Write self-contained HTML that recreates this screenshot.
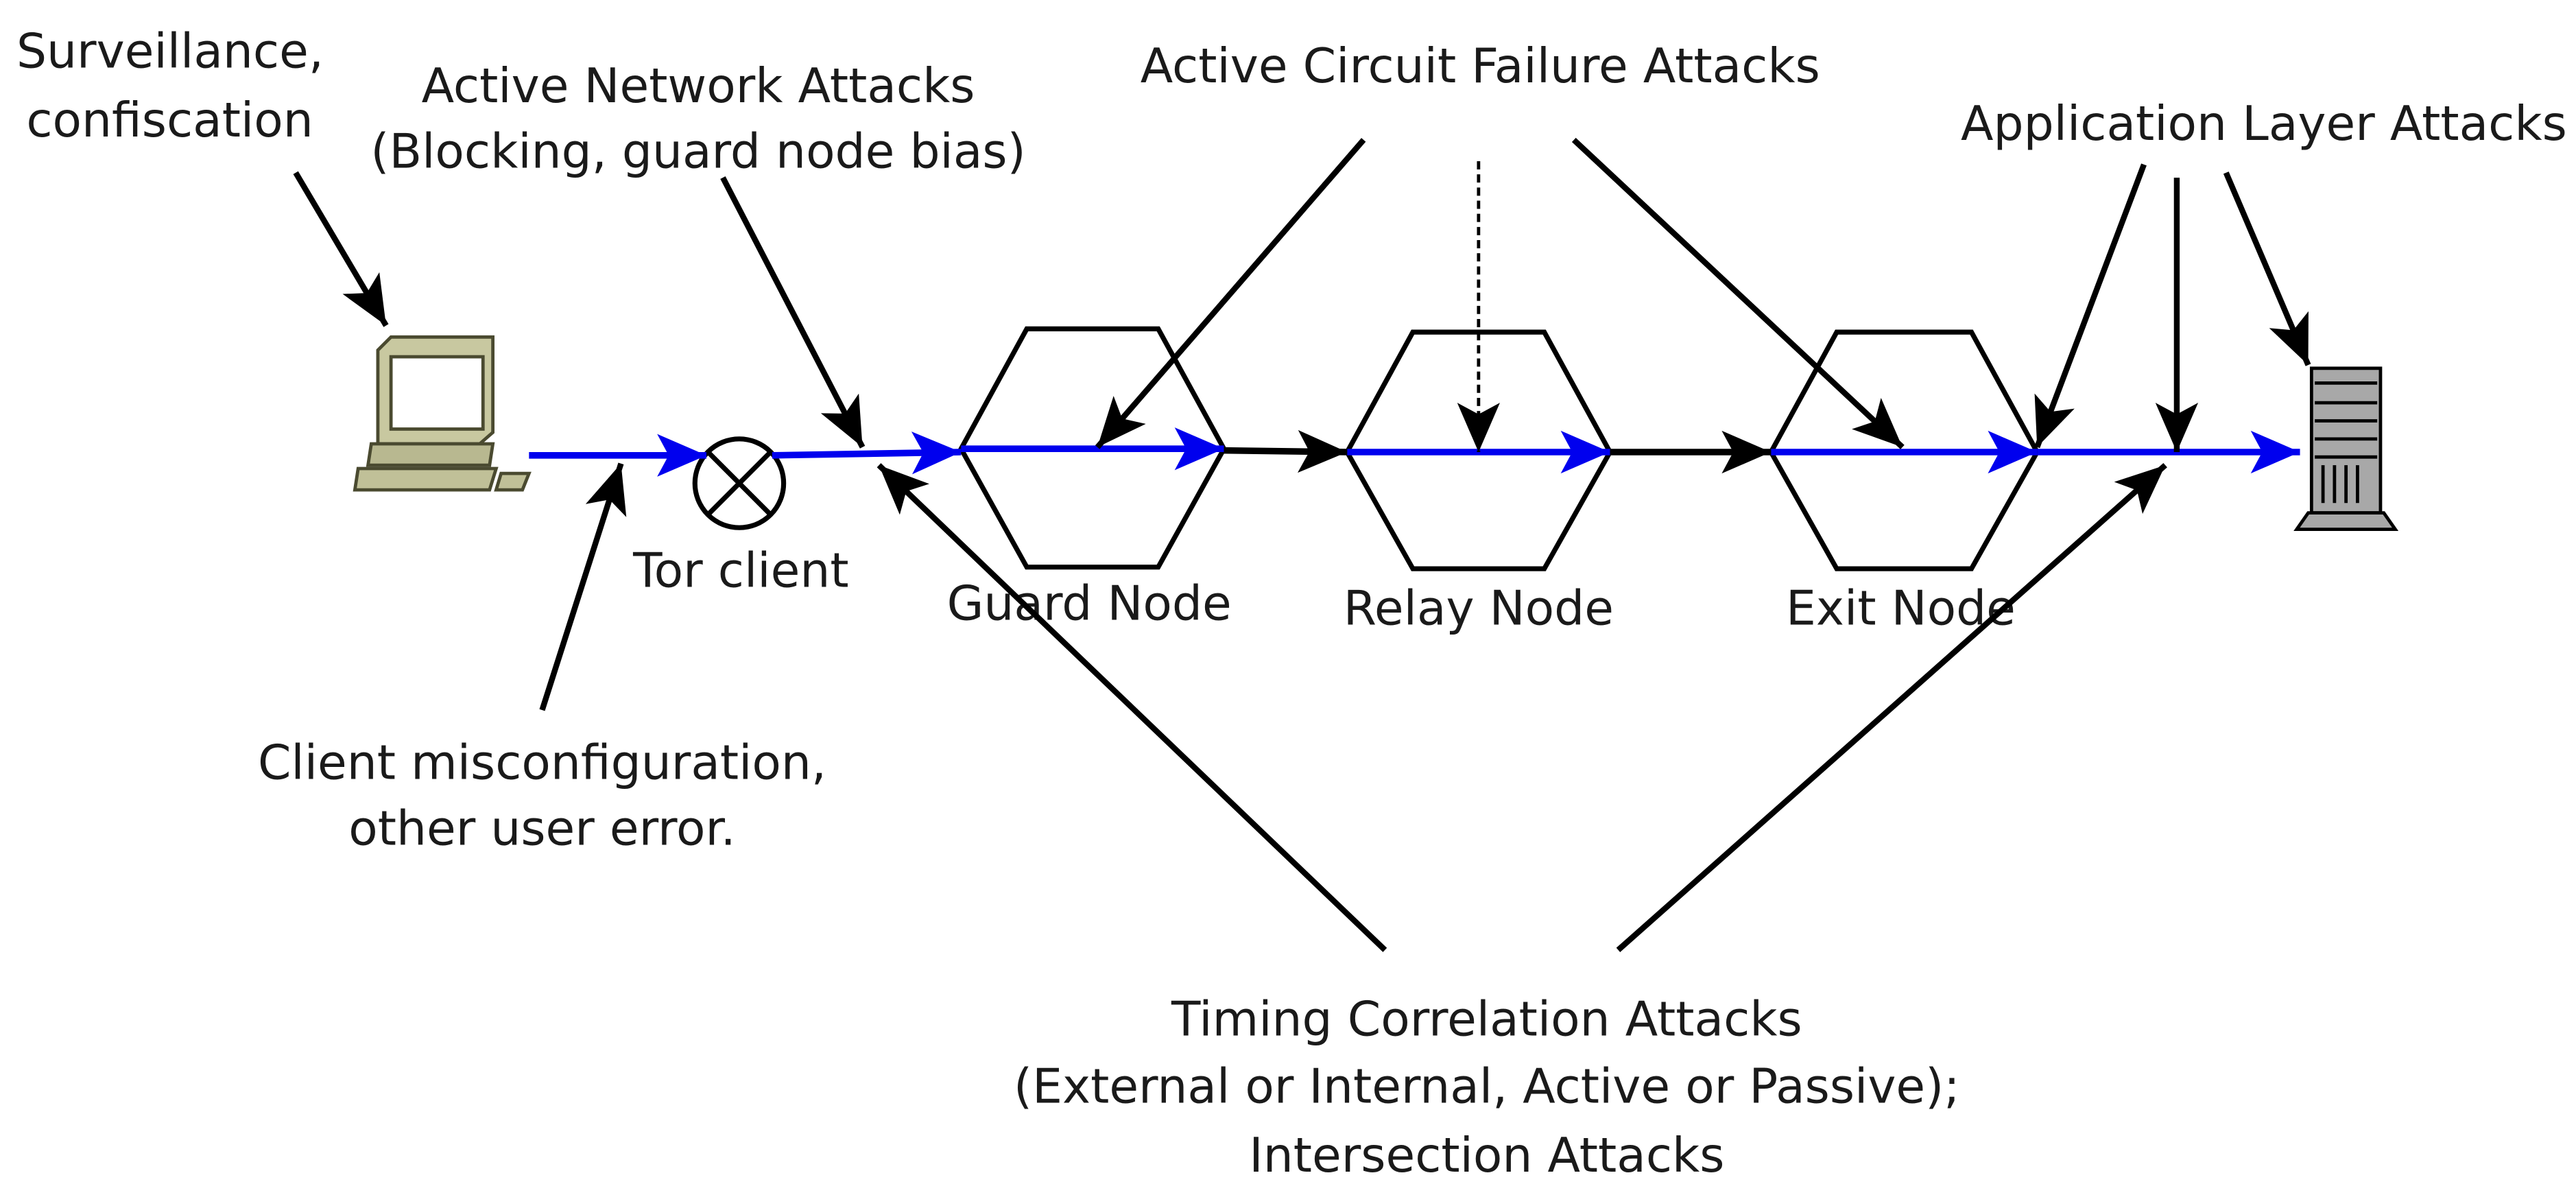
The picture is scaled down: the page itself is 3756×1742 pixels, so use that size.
<!DOCTYPE html>
<html><head><meta charset="utf-8"><style>
html,body{margin:0;padding:0;background:#fff;}
svg{display:block;}
text{font-family:"DejaVu Sans","Liberation Sans",sans-serif;font-size:29px;fill:#1a1a1a;}
</style></head><body>
<svg width="3756" height="1742" viewBox="0 0 1568 727" xmlns="http://www.w3.org/2000/svg">
<defs>
<marker id="bk" markerUnits="userSpaceOnUse" markerWidth="32" markerHeight="28" refX="30" refY="13" orient="auto">
<path d="M0,0 L30,13 L0,26 L7,13 z" fill="#000"/></marker>
<marker id="bl" markerUnits="userSpaceOnUse" markerWidth="32" markerHeight="28" refX="30" refY="13" orient="auto">
<path d="M0,0 L30,13 L0,26 L7,13 z" fill="#0000ee"/></marker>
</defs>
<rect width="1568" height="727" fill="#fff"/>

<!-- texts -->
<text x="10" y="41">Surveillance,</text>
<text x="16" y="83">confiscation</text>
<text x="425" y="62" text-anchor="middle">Active Network Attacks</text>
<text x="425" y="102" text-anchor="middle">(Blocking, guard node bias)</text>
<text x="901" y="50" text-anchor="middle">Active Circuit Failure Attacks</text>
<text x="1378" y="85" text-anchor="middle">Application Layer Attacks</text>
<text x="451" y="357" text-anchor="middle">Tor client</text>
<text x="663" y="377" text-anchor="middle">Guard Node</text>
<text x="900" y="380" text-anchor="middle">Relay Node</text>
<text x="1157" y="380" text-anchor="middle">Exit Node</text>
<text x="330" y="474" text-anchor="middle">Client misconfiguration,</text>
<text x="330" y="514" text-anchor="middle">other user error.</text>
<text x="905" y="630" text-anchor="middle">Timing Correlation Attacks</text>
<text x="905" y="671" text-anchor="middle">(External or Internal, Active or Passive);</text>
<text x="905" y="713" text-anchor="middle">Intersection Attacks</text>

<!-- hexagons -->
<g fill="none" stroke="#000" stroke-width="3">
<polygon points="585,273 625,200 705,200 745,273 705,345 625,345"/>
<polygon points="820,275 860,202 940,202 980,275 940,346 860,346"/>
<polygon points="1078,275 1118,202 1200,202 1240,275 1200,346 1118,346"/>
</g>

<!-- computer -->
<g stroke="#4a4a30" stroke-width="2">
<polygon points="230,213 238,205 300,205 300,263 292,270 230,270" fill="#c8c8a0"/>
<rect x="238" y="217" width="56" height="44" fill="#fff"/>
<polygon points="226,270 300,270 298,283 224,283" fill="#b8b890"/>
<polygon points="218,285 302,285 298,298 216,298" fill="#c0c098"/>
<polygon points="305,288 322,288 318,298 302,298" fill="#c0c098"/>
</g>

<!-- server -->
<g stroke="#000" stroke-width="2">
<rect x="1407" y="224" width="42" height="88" fill="#a8a8a8"/>
<polygon points="1405,312 1451,312 1458,322 1398,322" fill="#a8a8a8"/>
<line x1="1409" y1="233" x2="1447" y2="233"/>
<line x1="1409" y1="245" x2="1447" y2="245"/>
<line x1="1409" y1="256" x2="1447" y2="256"/>
<line x1="1409" y1="267" x2="1447" y2="267"/>
<line x1="1409" y1="278" x2="1447" y2="278"/>
<line x1="1414" y1="283" x2="1414" y2="306"/>
<line x1="1421" y1="283" x2="1421" y2="306"/>
<line x1="1428" y1="283" x2="1428" y2="306"/>
<line x1="1435" y1="283" x2="1435" y2="306"/>
</g>

<!-- tor client -->
<circle cx="450" cy="294" r="27" fill="none" stroke="#000" stroke-width="3"/>
<line x1="431" y1="275" x2="469" y2="313" stroke="#000" stroke-width="3"/>
<line x1="469" y1="275" x2="431" y2="313" stroke="#000" stroke-width="3"/>

<!-- blue path -->
<g stroke="#0000ee" stroke-width="4" fill="none">
<line x1="322" y1="277" x2="430" y2="277" marker-end="url(#bl)"/>
<line x1="470" y1="277" x2="585" y2="275" marker-end="url(#bl)"/>
<line x1="585" y1="273" x2="745" y2="273" marker-end="url(#bl)"/>
<line x1="820" y1="275" x2="980" y2="275" marker-end="url(#bl)"/>
<line x1="1078" y1="275" x2="1240" y2="275" marker-end="url(#bl)"/>
<line x1="1240" y1="275" x2="1400" y2="275" marker-end="url(#bl)"/>
</g>
<g stroke="#000" stroke-width="4" fill="none">
<line x1="745" y1="274" x2="820" y2="275" marker-end="url(#bk)"/>
<line x1="980" y1="275" x2="1078" y2="275" marker-end="url(#bk)"/>
</g>

<!-- attack arrows -->
<g stroke="#000" stroke-width="3.5" fill="none" marker-end="url(#bk)">
<line x1="180" y1="105" x2="235" y2="198"/>
<line x1="440" y1="108" x2="525" y2="272"/>
<line x1="330" y1="432" x2="378" y2="282"/>
<line x1="830" y1="85" x2="668" y2="272"/>
<line x1="958" y1="85" x2="1158" y2="272"/>
<line x1="1305" y1="100" x2="1240" y2="272"/>
<line x1="1325" y1="108" x2="1325" y2="275"/>
<line x1="1355" y1="105" x2="1405" y2="222"/>
<line x1="843" y1="578" x2="535" y2="283"/>
<line x1="985" y1="578" x2="1318" y2="283"/>
</g>
<line x1="900" y1="98" x2="900" y2="275" stroke="#000" stroke-width="2" stroke-dasharray="5,3" marker-end="url(#bk)"/>
</svg>
</body></html>
